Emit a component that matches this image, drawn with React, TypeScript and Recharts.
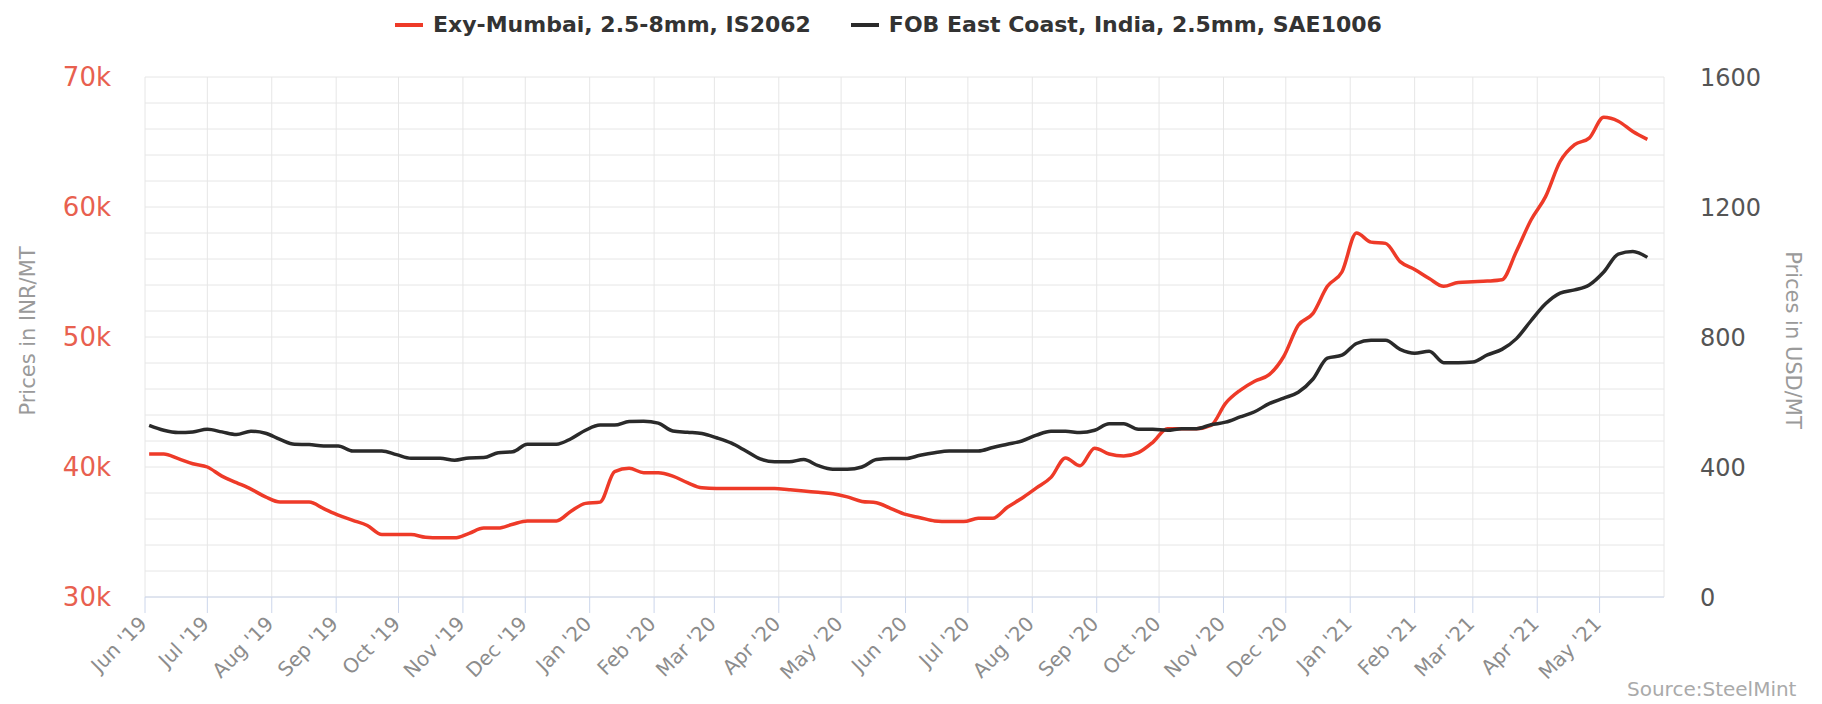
import React from "react";
import { CartesianGrid, Line, LineChart, XAxis, YAxis } from "recharts";

// weekly prices, first week starting 3 Jun 2019
const firstWeek = Date.UTC(2019, 5, 3);

// Exy-Mumbai, 2.5-8mm, IS2062 (INR/MT)
const exyMumbai = [
  41000, 41000, 40650, 40250, 40000, 39300, 38800, 38300, 37700, 37300,
  37300, 37300, 36800, 36300, 35900, 35500, 34800, 34800, 34800, 34600,
  34550, 34550, 34900, 35300, 35300, 35600, 35850, 35850, 35850, 36600,
  37200, 37300, 39650, 39900, 39560, 39560, 39300, 38800, 38400, 38350,
  38350, 38350, 38350, 38350, 38250, 38150, 38050, 37950, 37700, 37350,
  37250, 36800, 36350, 36100, 35850, 35800, 35800, 36050, 36050, 36900,
  37600, 38400, 39200, 40700, 40100, 41450, 41000, 40850, 41100, 41900,
  42950, 42950, 42950, 43200, 44900, 45900, 46600, 47100, 48500, 50900,
  51800, 53900, 55000, 58000, 57300, 57200, 55800, 55200, 54500, 53900,
  54200, 54250, 54300, 54400, 56600, 59000, 60800, 63500, 64800, 65300,
  66900, 66600, 65800, 65200,
];

// FOB East Coast, India, 2.5mm, SAE1006 (USD/MT)
const fobEastCoast = [
  528, 513, 506, 508, 516, 508, 500, 510, 504, 485,
  470, 469, 465, 465, 449, 449, 449, 438, 427, 427,
  427, 421, 428, 429, 444, 447, 470, 470, 470, 487,
  513, 529, 529, 540, 541, 535, 511, 507, 503, 490,
  474, 450, 425, 416, 416, 423, 404, 393, 393, 400,
  423, 426, 426, 436, 444, 449, 449, 449, 460, 470,
  480, 498, 510, 510, 506, 513, 533, 533, 516, 516,
  513, 518, 518, 530, 538, 554, 570, 595, 612, 630,
  670, 735, 744, 780, 790, 790, 762, 750, 756, 721,
  721, 723, 745, 762, 795, 850, 902, 935, 945, 960,
  1000, 1055, 1063, 1045,
];

const monthLabels = [
  "Jun '19", "Jul '19", "Aug '19", "Sep '19", "Oct '19", "Nov '19",
  "Dec '19", "Jan '20", "Feb '20", "Mar '20", "Apr '20", "May '20",
  "Jun '20", "Jul '20", "Aug '20", "Sep '20", "Oct '20", "Nov '20",
  "Dec '20", "Jan '21", "Feb '21", "Mar '21", "Apr '21", "May '21",
];

const inrTicks = [
  30000, 32000, 34000, 36000, 38000, 40000, 42000, 44000, 46000, 48000, 50000,
  52000, 54000, 56000, 58000, 60000, 62000, 64000, 66000, 68000, 70000,
];
const usdTicks = [
  0, 80, 160, 240, 320, 400, 480, 560, 640, 720, 800,
  880, 960, 1040, 1120, 1200, 1280, 1360, 1440, 1520, 1600,
];

const DAY = 86400000;
const data = exyMumbai.map((v, i) => ({
  t: firstWeek + i * 7 * DAY,
  exy: v,
  fob: fobEastCoast[i],
}));
const monthTicks = monthLabels.map((_, i) => Date.UTC(2019, 5 + i, 1));
const labelOf = (t: number) => monthLabels[monthTicks.indexOf(t)] ?? "";

const FONT = "'DejaVu Sans', sans-serif";
const RED = "#ee3a28";
const DARK = "#2a2a2a";

const MonthTick = (props: any) => {
  const { x, y, payload } = props;
  const tx = x + 3;
  const ty = y + 10;
  return (
    <text
      x={tx}
      y={ty}
      transform={`rotate(-45 ${tx} ${ty})`}
      textAnchor="end"
      fill="#8c8c8c"
      fontSize={20}
      fontFamily={FONT}
    >
      {labelOf(payload.value)}
    </text>
  );
};

const App: React.FC = () => {
  return (
    <div style={{ position: "relative", width: 1806, height: 690 }}>
      <LineChart
        width={1806}
        height={690}
        data={data}
        margin={{ top: 69, right: 0, bottom: 0, left: 0 }}
      >
        <CartesianGrid yAxisId="inr" stroke="#e6e6e6" />
        <XAxis
          dataKey="t"
          type="number"
          domain={[Date.UTC(2019, 5, 1), Date.UTC(2021, 5, 1)]}
          ticks={monthTicks}
          interval={0}
          height={101}
          tickSize={16}
          axisLine={{ stroke: "#ccd6eb" }}
          tickLine={{ stroke: "#ccd6eb" }}
          tick={<MonthTick />}
        />
        <YAxis
          yAxisId="inr"
          orientation="left"
          width={137}
          domain={[30000, 70000]}
          ticks={inrTicks}
          interval={0}
          axisLine={false}
          tickLine={false}
          tickSize={0}
          tickMargin={34}
          tick={{ fill: "#e8604f", fontSize: 26, fontFamily: FONT }}
          tickFormatter={(v: number) => (v % 10000 === 0 ? `${v / 1000}k` : "")}
          label={() => (
            <text
              x={20}
              y={323}
              transform="rotate(-90 20 323)"
              textAnchor="middle"
              dominantBaseline="central"
              fill="#9a9a9a"
              fontSize={21}
              fontFamily={FONT}
            >
              Prices in INR/MT
            </text>
          )}
        />
        <YAxis
          yAxisId="usd"
          orientation="right"
          width={150}
          domain={[0, 1600]}
          ticks={usdTicks}
          interval={0}
          axisLine={false}
          tickLine={false}
          tickSize={0}
          tickMargin={36}
          tick={{ fill: "#555555", fontSize: 24, fontFamily: FONT, textAnchor: "start" }}
          tickFormatter={(v: number) => (v % 400 === 0 ? String(v) : "")}
          label={() => (
            <text
              x={1785}
              y={332}
              transform="rotate(90 1785 332)"
              textAnchor="middle"
              dominantBaseline="central"
              fill="#9a9a9a"
              fontSize={21}
              fontFamily={FONT}
            >
              Prices in USD/MT
            </text>
          )}
        />
        <Line
          yAxisId="inr"
          type="monotone"
          dataKey="exy"
          name="Exy-Mumbai, 2.5-8mm, IS2062"
          stroke={RED}
          strokeWidth={3.5}
          dot={false}
          isAnimationActive={false}
        />
        <Line
          yAxisId="usd"
          type="monotone"
          dataKey="fob"
          name="FOB East Coast, India, 2.5mm, SAE1006"
          stroke={DARK}
          strokeWidth={3.5}
          dot={false}
          isAnimationActive={false}
        />
      </LineChart>
      <div
        style={{
          position: "absolute",
          left: 387,
          top: 4,
          display: "flex",
          alignItems: "center",
          fontFamily: FONT,
          fontWeight: "bold",
          fontSize: 22,
          color: "#333333",
          whiteSpace: "nowrap",
        }}
      >
        <span style={{ display: "inline-block", width: 28, height: 4, background: RED, marginRight: 10 }} />
        <span>Exy-Mumbai, 2.5-8mm, IS2062</span>
        <span style={{ display: "inline-block", width: 28, height: 4, background: DARK, marginLeft: 40, marginRight: 10 }} />
        <span>FOB East Coast, India, 2.5mm, SAE1006</span>
      </div>
      <div
        style={{
          position: "absolute",
          left: 1619,
          top: 669,
          fontFamily: FONT,
          fontSize: 20,
          color: "#aaaaaa",
          whiteSpace: "nowrap",
        }}
      >
        Source:SteelMint
      </div>
    </div>
  );
};

export default App;
